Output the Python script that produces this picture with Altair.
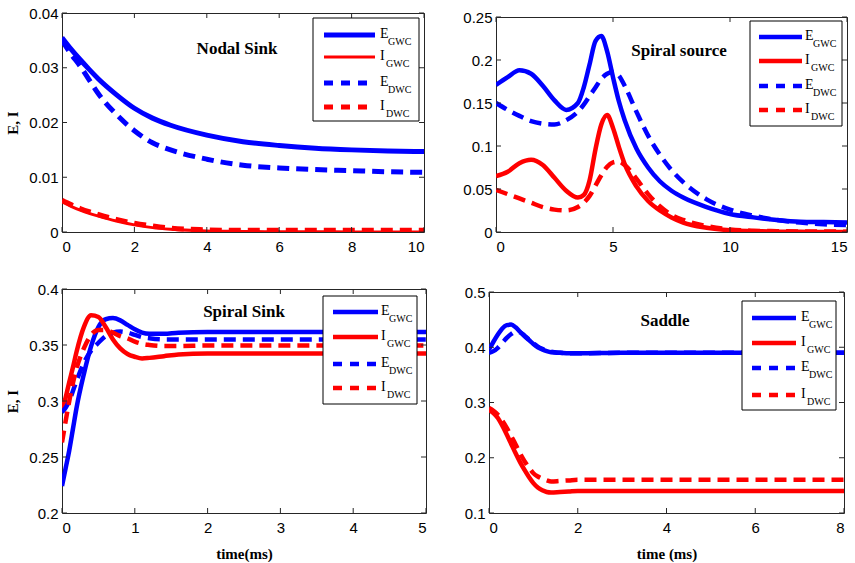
import altair as alt
import pandas as pd

# ---------------- data ----------------
# Panel 1: Nodal Sink
t_nodal = [0, 0.25, 0.5, 0.75, 1, 1.5, 2, 2.5, 3, 4, 5, 6, 7, 8, 9, 10]
egwc_nodal = [0.0355, 0.0334, 0.0315, 0.0297, 0.0280, 0.0251, 0.0226, 0.0208, 0.0195,
              0.0177, 0.0165, 0.0158, 0.0153, 0.0150, 0.0148, 0.0147]
igwc_nodal = [0.0055, 0.0047, 0.0040, 0.0034, 0.0029, 0.0020, 0.0013, 0.0008, 0.0005,
              0.0002, 0.0001, 0.00005, 0.00003, 0.00002, 0.00001, 0.0]
edwc_nodal = [0.0350, 0.0325, 0.0303, 0.0278, 0.0253, 0.0215, 0.0185, 0.0163, 0.0150,
              0.0133, 0.0122, 0.0117, 0.0114, 0.0112, 0.0110, 0.0109]
idwc_nodal = [0.0058, 0.0050, 0.0043, 0.0037, 0.0032, 0.0023, 0.0016, 0.0011, 0.0007,
              0.0004, 0.0003, 0.0003, 0.0003, 0.0003, 0.0003, 0.0003]

# Panel 2: Spiral source
t_source = [0, 0.5, 1, 1.5, 2, 2.5, 3, 3.5, 3.75, 4, 4.25, 4.5, 4.75, 5, 5.25, 5.5,
            6, 6.5, 7, 7.5, 8, 9, 10, 11, 12, 13, 14, 15]
egwc_source = [0.171, 0.180, 0.188, 0.184, 0.170, 0.153, 0.142, 0.150, 0.168, 0.195, 0.222,
               0.228, 0.210, 0.180, 0.152, 0.130, 0.097, 0.075, 0.059, 0.048, 0.040, 0.029,
               0.021, 0.017, 0.014, 0.012, 0.0115, 0.011]
igwc_source = [0.065, 0.070, 0.080, 0.084, 0.078, 0.063, 0.048, 0.040, 0.043, 0.060, 0.096,
               0.125, 0.136, 0.121, 0.099, 0.079, 0.053, 0.036, 0.025, 0.017, 0.011, 0.005,
               0.002, 0.001, 0.0004, 0.0002, 0.0001, 0.0]
edwc_source = [0.150, 0.142, 0.135, 0.129, 0.126, 0.125, 0.130, 0.140, 0.148, 0.158, 0.168,
               0.178, 0.184, 0.186, 0.182, 0.170, 0.140, 0.112, 0.090, 0.072, 0.058, 0.038,
               0.026, 0.019, 0.014, 0.011, 0.009, 0.008]
idwc_source = [0.049, 0.044, 0.039, 0.034, 0.029, 0.026, 0.025, 0.029, 0.034, 0.042, 0.054,
               0.066, 0.076, 0.081, 0.082, 0.078, 0.062, 0.044, 0.030, 0.020, 0.014, 0.007,
               0.003, 0.0015, 0.001, 0.0007, 0.0005, 0.0004]

# Panel 3: Spiral Sink
t_ssink = [0, 0.05, 0.1, 0.15, 0.2, 0.3, 0.4, 0.5, 0.6, 0.7, 0.8, 0.9, 1.0, 1.1, 1.2, 1.4,
           1.6, 2, 3, 4, 5]
egwc_ssink = [0.224, 0.240, 0.256, 0.275, 0.294, 0.324, 0.349, 0.366, 0.373, 0.374, 0.372,
              0.368, 0.364, 0.361, 0.360, 0.360, 0.361, 0.3615, 0.3615, 0.3615, 0.3615]
igwc_ssink = [0.292, 0.303, 0.317, 0.330, 0.344, 0.366, 0.3765, 0.375, 0.366, 0.355, 0.347,
              0.342, 0.3395, 0.338, 0.3385, 0.340, 0.3415, 0.3425, 0.3425, 0.3425, 0.3425]
edwc_ssink = [0.290, 0.294, 0.300, 0.309, 0.318, 0.334, 0.345, 0.352, 0.358, 0.361, 0.362,
              0.361, 0.359, 0.357, 0.356, 0.355, 0.355, 0.355, 0.355, 0.355, 0.355]
idwc_ssink = [0.263, 0.282, 0.300, 0.316, 0.329, 0.347, 0.359, 0.3635, 0.3635, 0.361, 0.358,
              0.356, 0.353, 0.351, 0.350, 0.349, 0.349, 0.3495, 0.3495, 0.3495, 0.3495]

# Panel 4: Saddle
t_saddle = [0, 0.1, 0.2, 0.3, 0.4, 0.5, 0.6, 0.7, 0.8, 0.9, 1.0, 1.1, 1.2, 1.3, 1.4, 1.6,
            1.8, 2, 3, 4, 5, 6, 7, 8]
egwc_saddle = [0.396, 0.410, 0.423, 0.434, 0.440, 0.441, 0.436, 0.428, 0.420, 0.413, 0.406,
               0.400, 0.396, 0.393, 0.391, 0.390, 0.389, 0.389, 0.390, 0.390, 0.390, 0.390,
               0.390, 0.390]
igwc_saddle = [0.287, 0.281, 0.272, 0.258, 0.242, 0.225, 0.208, 0.192, 0.178, 0.165, 0.154,
               0.146, 0.141, 0.138, 0.137, 0.138, 0.139, 0.140, 0.140, 0.140, 0.140, 0.140,
               0.140, 0.140]
edwc_saddle = [0.390, 0.393, 0.399, 0.408, 0.417, 0.424, 0.428, 0.427, 0.421, 0.414, 0.407,
               0.401, 0.397, 0.394, 0.392, 0.390, 0.389, 0.389, 0.390, 0.390, 0.390, 0.390,
               0.390, 0.390]
idwc_saddle = [0.290, 0.285, 0.278, 0.267, 0.254, 0.239, 0.224, 0.208, 0.194, 0.182, 0.172,
               0.166, 0.162, 0.159, 0.157, 0.158, 0.159, 0.160, 0.160, 0.160, 0.160, 0.160,
               0.160, 0.160]

series_main = ["E", "I", "E", "I"]
series_sub = ["GWC", "GWC", "DWC", "DWC"]

# ---------------- styling ----------------
BLUE = "#0000ff"
RED = "#ff0000"
FRAME = "#262626"
SERIF = "Liberation Serif"
SANS = "Liberation Sans"
series_color = [BLUE, RED, BLUE, RED]
series_dashed = [False, False, True, True]
LINE_DASH = [12, 7]
LEG_DASH = [9, 8]
one = pd.DataFrame({"k": [0]})


def panel(t, ys, xdom, xticks, ydom, yticks, w, h, title, title_xy,
          box, line_x, text_x, rows, widths, xtitle=None, ytitle=None):
    xscale = alt.Scale(domain=xdom, nice=False, zero=False)
    yscale = alt.Scale(domain=ydom, nice=False, zero=False)
    xaxis = alt.Axis(values=xticks, format="~r", title=xtitle)
    yaxis = alt.Axis(values=yticks, format="~r", title=ytitle)
    X = alt.X("t:Q", scale=xscale, axis=xaxis)
    Y = alt.Y("val:Q", scale=yscale, axis=yaxis)
    layers = []
    for i, y in enumerate(ys):
        df = pd.DataFrame({"t": t, "val": y})
        mk = dict(color=series_color[i], strokeWidth=widths[i], clip=True,
                  interpolate="monotone")
        if series_dashed[i]:
            mk["strokeDash"] = LINE_DASH
        layers.append(alt.Chart(df).mark_line(**mk).encode(x=X, y=Y))
    # inward ticks on all four sides
    dxt = pd.DataFrame({"t": xticks})
    dyt = pd.DataFrame({"val": yticks})
    tk = dict(color=FRAME, strokeWidth=1)
    layers.append(alt.Chart(dxt).mark_rule(**tk).encode(x=X, y=alt.value(h), y2=alt.value(h - 5)))
    layers.append(alt.Chart(dxt).mark_rule(**tk).encode(x=X, y=alt.value(0), y2=alt.value(5)))
    layers.append(alt.Chart(dyt).mark_rule(**tk).encode(y=Y, x=alt.value(0), x2=alt.value(5)))
    layers.append(alt.Chart(dyt).mark_rule(**tk).encode(y=Y, x=alt.value(w), x2=alt.value(w - 5)))
    # panel title
    layers.append(alt.Chart(one).mark_text(
        text=title, font=SERIF, fontWeight="bold", fontSize=17, color="black",
        align="center", baseline="alphabetic").encode(
        x=alt.value(title_xy[0]), y=alt.value(title_xy[1])))
    # legend box
    layers.append(alt.Chart(one).mark_rect(fill="white", stroke="black", strokeWidth=1).encode(
        x=alt.value(box[0]), x2=alt.value(box[1]), y=alt.value(box[2]), y2=alt.value(box[3])))
    for i in range(4):
        ry = rows[i]
        mk = dict(color=series_color[i], strokeWidth=widths[i])
        if series_dashed[i]:
            mk["strokeDash"] = LEG_DASH
        layers.append(alt.Chart(one).mark_rule(**mk).encode(
            x=alt.value(line_x[0]), x2=alt.value(line_x[1]), y=alt.value(ry)))
        layers.append(alt.Chart(one).mark_text(
            text=series_main[i], font=SERIF, fontSize=14, color="black",
            align="left", baseline="alphabetic").encode(
            x=alt.value(text_x), y=alt.value(ry + 3)))
        layers.append(alt.Chart(one).mark_text(
            text=series_sub[i], font=SERIF, fontSize=10, color="black",
            align="left", baseline="alphabetic").encode(
            x=alt.value(text_x + (8 if series_main[i] == "E" else 6)), y=alt.value(ry + 10)))
    return alt.layer(*layers).properties(width=w, height=h)


def spacer(hh):
    return alt.Chart(one).mark_point(opacity=0, size=1, strokeWidth=0).encode(
        x=alt.value(5), y=alt.value(hh / 2)).properties(
        width=10, height=hh, view=alt.ViewBackground(strokeOpacity=0))


p1 = panel(t_nodal, [egwc_nodal, igwc_nodal, edwc_nodal, idwc_nodal],
           [0, 10], [0, 2, 4, 6, 8, 10], [0, 0.04], [0, 0.01, 0.02, 0.03, 0.04],
           362, 219, "Nodal Sink", (175, 41),
           (251, 357, 5, 108), (262, 313), 318, [22, 44, 70, 94],
           [5, 3, 5, 5], ytitle="E, I")
p2 = panel(t_source, [egwc_source, igwc_source, edwc_source, idwc_source],
           [0, 15], [0, 5, 10, 15], [0, 0.25], [0, 0.05, 0.1, 0.15, 0.2, 0.25],
           351, 215, "Spiral source", (183, 39),
           (254, 346, 4, 109), (263, 306), 309, [20, 44, 69, 93],
           [4.5, 4.5, 4.5, 4.5])
p3 = panel(t_ssink, [egwc_ssink, igwc_ssink, edwc_ssink, idwc_ssink],
           [0, 5], [0, 1, 2, 3, 4, 5], [0.2, 0.4], [0.2, 0.25, 0.3, 0.35, 0.4],
           364, 224, "Spiral Sink", (182, 28),
           (261, 355, 7, 115), (271, 316), 319, [23, 48, 75, 99],
           [4.5, 4.5, 4.5, 4.5], xtitle="time(ms)", ytitle="E, I")
p4 = panel(t_saddle, [egwc_saddle, igwc_saddle, edwc_saddle, idwc_saddle],
           [0, 8], [0, 2, 4, 6, 8], [0.1, 0.5], [0.1, 0.2, 0.3, 0.4, 0.5],
           355, 221, "Saddle", (176, 34),
           (253, 347, 9, 118), (263, 307), 312, [26, 51, 76, 103],
           [4.5, 4.5, 4.5, 4.5], xtitle="time (ms)")

row1 = alt.hconcat(alt.vconcat(spacer(1), p1, spacing=0),
                   alt.vconcat(spacer(5), p2, spacing=0), spacing=37)
row2 = alt.hconcat(alt.vconcat(spacer(1), p3, spacing=0),
                   alt.vconcat(spacer(4), p4, spacing=0), spacing=36)

chart = alt.vconcat(row1, row2, spacing=25).properties(
    padding={"left": 5, "top": 4, "right": 0, "bottom": 0},
    background="white",
).configure_view(
    stroke=FRAME, strokeWidth=1
).configure_axis(
    domain=False, ticks=False, tickSize=0, grid=False,
    labelFont=SANS, labelFontSize=15, labelColor="black",
    titleFont=SERIF, titleFontWeight="bold", titleFontSize=15, titleColor="black",
).configure_axisX(
    labelPadding=7, titlePadding=11,
).configure_axisY(
    labelPadding=4, titlePadding=8,
)

chart.save("out.html", embed_options={"renderer": "svg", "actions": False})
